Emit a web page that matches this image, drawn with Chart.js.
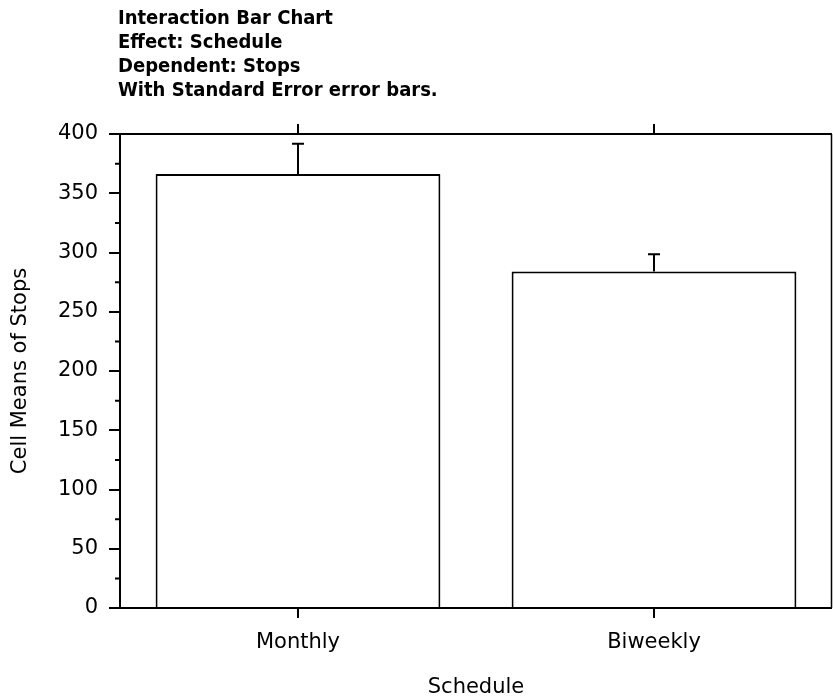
<!DOCTYPE html>
<html>
<head>
<meta charset="utf-8">
<script src="https://cdn.jsdelivr.net/npm/chart.js@4.4.1/dist/chart.umd.min.js"></script>
<style>
  html, body { margin: 0; padding: 0; background: #fff; }
  #wrap { width: 833px; height: 700px; position: relative; }
</style>
</head>
<body>
<div id="wrap"><canvas id="c" width="833" height="700"></canvas></div>
<script>
// Cell means of Stops by Schedule, with standard errors
const categories = ['Monthly', 'Biweekly'];
const cellMeans = [366.3, 284.0];
const standardErrors = [25.5, 14.6];
const yTickValues = [0, 50, 100, 150, 200, 250, 300, 350, 400];
const yMinorTickValues = [25, 75, 125, 175, 225, 275, 325, 375];
const titleLines = [
  'Interaction Bar Chart',
  'Effect: Schedule',
  'Dependent: Stops',
  'With Standard Error error bars.'
];

const FONT = "'DejaVu Sans', Verdana, sans-serif";
const TICK_FONT_SIZE = 21;
const TITLE_FONT = "'DejaVu Sans Condensed', 'Liberation Sans', sans-serif";
const TITLE_BLOCK_WIDTH = 319; // width of the longest title line

// Upper standard-error whiskers with a short cap
const errorBars = {
  id: 'errorBars',
  afterDatasetsDraw(chart) {
    const { ctx } = chart;
    const meta = chart.getDatasetMeta(0);
    const y = chart.scales.y;
    ctx.save();
    ctx.strokeStyle = '#000';
    ctx.lineWidth = 2;
    meta.data.forEach((bar, i) => {
      const yTop = y.getPixelForValue(cellMeans[i] + standardErrors[i]);
      const yBase = y.getPixelForValue(cellMeans[i]);
      ctx.beginPath();
      ctx.moveTo(bar.x, yBase);
      ctx.lineTo(bar.x, yTop);
      ctx.moveTo(bar.x - 6, yTop);
      ctx.lineTo(bar.x + 6, yTop);
      ctx.stroke();
    });
    ctx.restore();
  }
};

// Frame: axis lines, minor ticks, top category ticks and the title block
const frame = {
  id: 'frame',
  afterDraw(chart) {
    const { ctx, chartArea: a } = chart;
    const x = chart.scales.x;
    const y = chart.scales.y;
    ctx.save();
    ctx.strokeStyle = '#000';
    ctx.lineWidth = 2;
    ctx.lineCap = 'butt';
    ctx.beginPath();
    // top and bottom lines, running past the y axis
    ctx.moveTo(a.left - 10, a.top); ctx.lineTo(a.right, a.top);
    ctx.moveTo(a.left - 10, a.bottom); ctx.lineTo(a.right, a.bottom);
    // left axis
    ctx.moveTo(a.left, a.top); ctx.lineTo(a.left, a.bottom);
    // category ticks on top edge
    categories.forEach((c, i) => {
      const px = x.getPixelForValue(i);
      ctx.moveTo(px, a.top - 10); ctx.lineTo(px, a.top);
    });
    // minor ticks on y axis
    yMinorTickValues.forEach(v => {
      const py = y.getPixelForValue(v);
      ctx.moveTo(a.left - 5, py); ctx.lineTo(a.left, py);
    });
    ctx.stroke();
    // right edge
    ctx.lineWidth = 1.5;
    ctx.beginPath();
    ctx.moveTo(a.right - 0.5, a.top); ctx.lineTo(a.right - 0.5, a.bottom);
    ctx.stroke();

    // title block, sized so the longest line spans the block width
    ctx.fillStyle = '#000';
    ctx.font = 'bold 18px ' + TITLE_FONT;
    const longest = Math.max(...titleLines.map(t => ctx.measureText(t).width));
    const size = Math.min(22, Math.max(16, 18 * TITLE_BLOCK_WIDTH / longest));
    ctx.font = 'bold ' + size.toFixed(1) + 'px ' + TITLE_FONT;
    ctx.textAlign = 'left';
    ctx.textBaseline = 'alphabetic';
    titleLines.forEach((t, i) => {
      ctx.fillText(t, a.left - 2, 24 + i * 24);
    });
    ctx.restore();
  }
};

new Chart(document.getElementById('c'), {
  type: 'bar',
  data: {
    labels: categories,
    datasets: [{
      data: cellMeans,
      backgroundColor: '#ffffff',
      borderColor: '#000000',
      borderWidth: 2,
      categoryPercentage: 1.0,
      barPercentage: 0.8
    }]
  },
  options: {
    responsive: false,
    animation: false,
    devicePixelRatio: 1,
    layout: { padding: { top: 134, right: 1, left: 0, bottom: 0 } },
    plugins: {
      legend: { display: false },
      tooltip: { enabled: false },
      title: { display: false }
    },
    scales: {
      x: {
        type: 'category',
        offset: true,
        afterFit(scale) { scale.height = 92; },
        border: { display: false },
        grid: {
          display: true,
          drawOnChartArea: false,
          offset: false,
          drawTicks: true,
          tickLength: 10,
          lineWidth: 2,
          color: '#000'
        },
        ticks: {
          color: '#000',
          font: { family: FONT, size: TICK_FONT_SIZE },
          padding: 12,
          maxRotation: 0
        },
        title: {
          display: true,
          text: 'Schedule',
          color: '#000',
          font: { family: FONT, size: TICK_FONT_SIZE },
          padding: { top: 0, bottom: 0 }
        }
      },
      y: {
        min: 0,
        max: 400,
        afterFit(scale) { scale.width = 120; },
        afterBuildTicks(scale) { scale.ticks = yTickValues.map(v => ({ value: v })); },
        border: { display: false },
        grid: {
          display: true,
          drawOnChartArea: false,
          drawTicks: true,
          tickLength: 11,
          lineWidth: 2,
          color: '#000'
        },
        ticks: {
          color: '#000',
          font: { family: FONT, size: TICK_FONT_SIZE },
          padding: 11
        },
        title: {
          display: true,
          text: 'Cell Means of Stops',
          color: '#000',
          font: { family: FONT, size: TICK_FONT_SIZE },
          padding: { top: 8, bottom: 0 }
        }
      }
    }
  },
  plugins: [errorBars, frame]
});
</script>
</body>
</html>
